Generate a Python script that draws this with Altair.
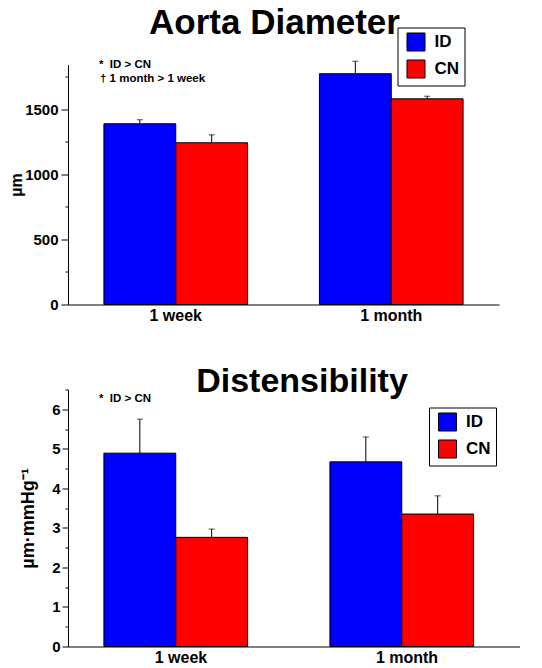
import altair as alt
import pandas as pd

FONT = "Liberation Sans"

# ---- data ----
groups = ["1 week", "1 month"]
series = ["ID", "CN"]
colors = ["#0000ff", "#ff0000"]

diam_id = [1390, 1775]
diam_id_err = [31, 96]
diam_cn = [1244, 1582]
diam_cn_err = [61, 20]
diam_major = [0, 500, 1000, 1500]
diam_minor = [250, 750, 1250, 1750]

dist_id = [4.89, 4.67]
dist_id_err = [0.86, 0.63]
dist_cn = [2.76, 3.35]
dist_cn_err = [0.21, 0.46]
dist_major = [0, 1, 2, 3, 4, 5, 6]
dist_minor = [0.5, 1.5, 2.5, 3.5, 4.5, 5.5, 6.5]


def frame(idv, ide, cnv, cne):
    rows = []
    for i, g in enumerate(groups):
        rows.append(dict(group=g, series="ID", value=idv[i], upper=idv[i] + ide[i]))
        rows.append(dict(group=g, series="CN", value=cnv[i], upper=cnv[i] + cne[i]))
    return pd.DataFrame(rows)


def text_layer(txt, x, y, size, align="left"):
    return alt.Chart(pd.DataFrame({"t": [txt]})).mark_text(
        align=align, baseline="alphabetic", font=FONT, fontSize=size,
        fontWeight="bold", color="black"
    ).encode(text="t:N", x=alt.value(x), y=alt.value(y))


def panel(df, ytitle, ydomain, major, minor, width, height,
          tick_major, label_pad, title_x, title_size, legend_x, legend_y, texts):
    x = alt.X("group:N", sort=groups, title=None,
              scale=alt.Scale(paddingInner=0, paddingOuter=0),
              axis=alt.Axis(labelAngle=0, ticks=False, domainColor="black", domainWidth=1,
                            labelFont=FONT, labelFontSize=16, labelFontWeight="bold",
                            labelColor="black", labelPadding=3))
    xo = alt.XOffset("series:N", sort=series,
                     scale=alt.Scale(paddingInner=0, paddingOuter=0.5))
    yscale = alt.Scale(domain=ydomain, nice=False, zero=True)
    y_major = alt.Y("value:Q", scale=yscale, title=ytitle,
                    axis=alt.Axis(orient="left", values=major, grid=False, format="d",
                                  tickSize=tick_major, tickColor="black", tickWidth=1,
                                  domainColor="black", domainWidth=1,
                                  labelFont=FONT, labelFontSize=15, labelFontWeight="bold",
                                  labelColor="black", labelPadding=label_pad,
                                  titleFont=FONT, titleFontSize=title_size,
                                  titleFontWeight="bold", titleColor="black",
                                  titleX=title_x, titleY=height / 2,
                                  titleAngle=270, titleAlign="center",
                                  titleBaseline="bottom"))
    y_minor = alt.Y("upper:Q", scale=yscale, title=None,
                    axis=alt.Axis(orient="left", values=minor, grid=False, labels=False,
                                  domain=False, tickSize=3, tickColor="black",
                                  tickWidth=1, title=None))
    color = alt.Color("series:N", sort=series,
                      scale=alt.Scale(domain=series, range=colors),
                      legend=alt.Legend(title=None, orient="none", legendX=legend_x,
                                        legendY=legend_y, direction="vertical",
                                        symbolType="square", symbolSize=324,
                                        symbolStrokeColor="black", symbolStrokeWidth=1,
                                        symbolOpacity=1, symbolOffset=4,
                                        labelFont=FONT, labelFontSize=17,
                                        labelFontWeight="bold", labelColor="black",
                                        labelOffset=9, rowPadding=4, padding=5,
                                        labelExpr="datum.label + '\u00a0'",
                                        strokeColor="black", fillColor="white"))
    base = alt.Chart(df)
    bars = base.mark_bar(stroke="black", strokeWidth=1, opacity=1).encode(
        x=x, xOffset=xo, y=y_major, color=color)
    rule = base.mark_rule(color="black", strokeWidth=1).encode(
        x=x, xOffset=xo, y=alt.Y("value:Q", scale=yscale, axis=None), y2="upper:Q")
    cap = base.mark_tick(color="black", thickness=1, size=6).encode(
        x=x, xOffset=xo, y=y_minor)
    layers = [rule, bars, cap] + texts
    return alt.layer(*layers).resolve_axis(y="independent").properties(
        width=width, height=height)


top = panel(
    frame(diam_id, diam_id_err, diam_cn, diam_cn_err),
    "µm", [0, 1846], diam_major, diam_minor,
    431, 240, 7, 3, -43.5, 16, 329.5, -37,
    [text_layer("Aorta Diameter", 206.5, -31, 35, "center"),
     text_layer("*\u00a0 ID > CN", 31, 3, 11.5),
     text_layer("† 1 month > 1 week", 32, 17, 11.5)],
)

bottom = panel(
    frame(dist_id, dist_id_err, dist_cn, dist_cn_err),
    "µm·mmHg⁻¹", [0, 6.5], dist_major, dist_minor,
    452, 257, 6, 2, -31, 18, 361, 18,
    [text_layer("Distensibility", 234, 2, 34, "center"),
     text_layer("*\u00a0 ID > CN", 31, 12, 11.5)],
)

chart = alt.vconcat(top, bottom, spacing=41).resolve_legend(color="independent").properties(
    padding={"left": 0, "top": -2.5, "right": 0, "bottom": 0}
).configure(background="white").configure_view(stroke=None)

chart.save("out.html", embed_options={"renderer": "svg", "actions": False})
